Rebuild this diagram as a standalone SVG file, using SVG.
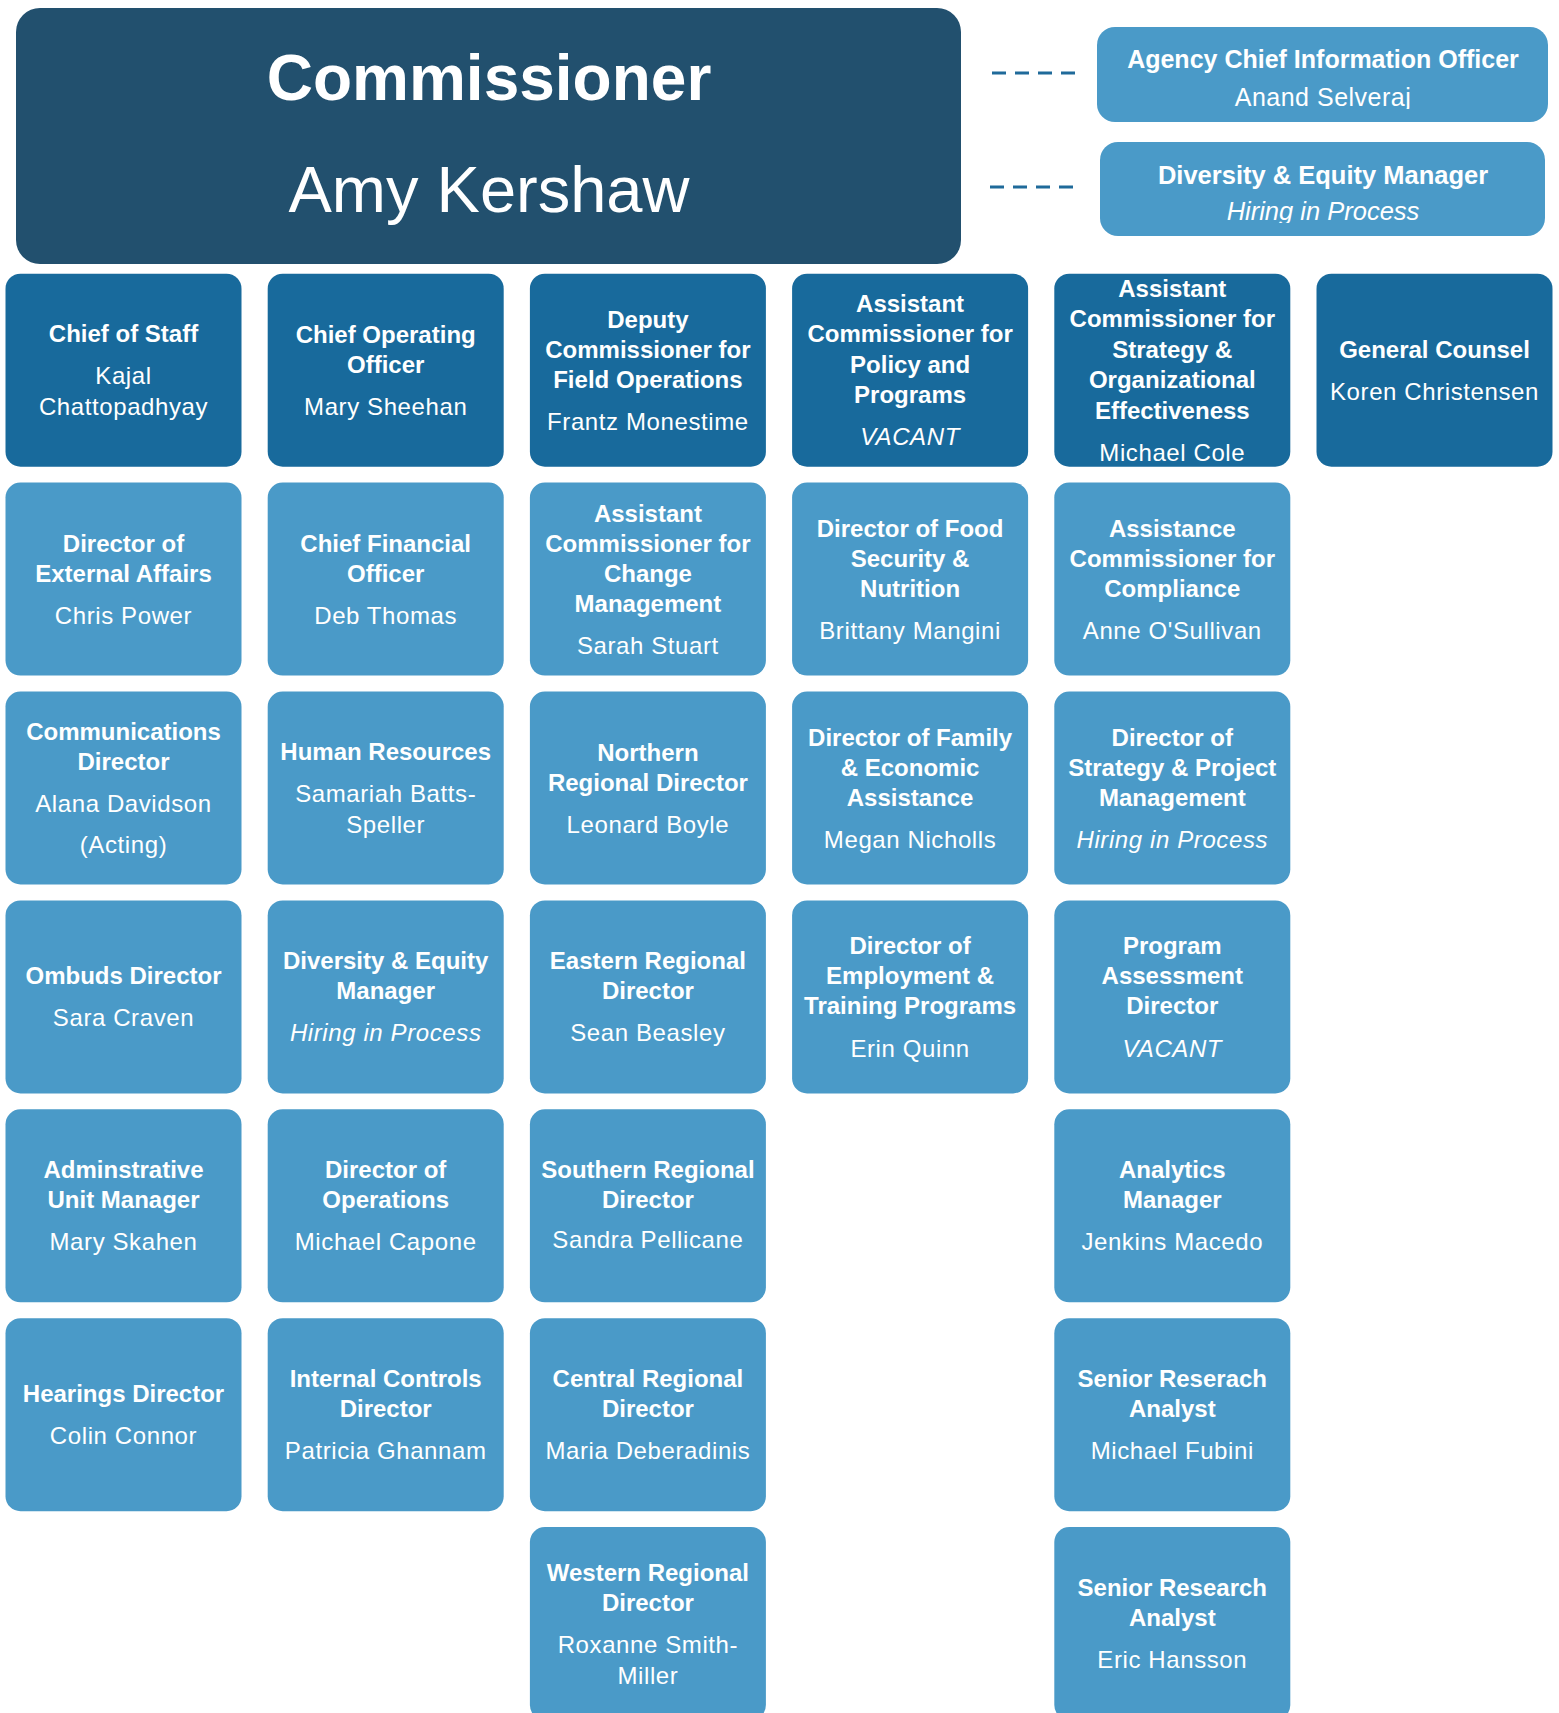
<svg xmlns="http://www.w3.org/2000/svg" width="1559" height="1713" viewBox="0 0 1559 1713">
<style>
text { font-family: "Liberation Sans", Arial, sans-serif; fill: #ffffff; text-anchor: middle; }
.t { font-weight: bold; font-size: 24px; }
.n { font-size: 24px; letter-spacing: 0.6px; }
.i { font-style: italic; }
.dk { fill: #186A9C; }
.lt { fill: #4A9AC8; }
.cm { fill: #22506E; }
.dash { stroke: #1F6A9A; stroke-width: 3; stroke-dasharray: 14 9; fill: none; }
</style>
<defs>
<clipPath id="clipCio"><rect x="1097" y="27" width="451" height="82"/></clipPath>
<clipPath id="clipDem"><rect x="1100" y="142" width="445" height="81"/></clipPath>
</defs>

<g id="connectors">
<line class="dash" x1="992" y1="73" x2="1076" y2="73"/>
<line class="dash" x1="990" y1="187" x2="1074" y2="187"/>
</g>

<g id="commissioner">
<rect class="cm" x="16" y="8" width="945" height="256" rx="24"/>
<text x="489" y="100" style="font-weight:bold;font-size:64px">Commissioner</text>
<text x="489" y="212" style="font-size:65px">Amy Kershaw</text>
</g>

<g id="agency-cio">
<rect class="lt" x="1097" y="27" width="451" height="95" rx="18"/>
<text x="1323" y="68" style="font-weight:bold;font-size:25px">Agency Chief Information Officer</text>
<text x="1323" y="106" clip-path="url(#clipCio)" style="font-size:25px;letter-spacing:0.5px">Anand Selveraj</text>
</g>

<g id="diversity-equity-top">
<rect class="lt" x="1100" y="142" width="445" height="94" rx="18"/>
<text x="1323" y="184" style="font-weight:bold;font-size:25.5px">Diversity &amp; Equity Manager</text>
<text x="1323" y="220" class="i" clip-path="url(#clipDem)" style="font-size:25.5px">Hiring in Process</text>
</g>

<!-- Row 1 -->
<g id="chief-of-staff">
<rect class="dk" x="5.5" y="273.7" width="236" height="193" rx="15"/>
<text class="t" x="123.5" y="342.2">Chief of Staff</text>
<text class="n" x="123.5" y="384.2">Kajal</text>
<text class="n" x="123.5" y="415.2">Chattopadhyay</text>
</g>
<g id="coo">
<rect class="dk" x="267.7" y="273.7" width="236" height="193" rx="15"/>
<text class="t" x="385.7" y="342.7">Chief Operating</text>
<text class="t" x="385.7" y="372.7">Officer</text>
<text class="n" x="385.7" y="414.7">Mary Sheehan</text>
</g>
<g id="deputy-field-ops">
<rect class="dk" x="529.9" y="273.7" width="236" height="193" rx="15"/>
<text class="t" x="647.9" y="327.7">Deputy</text>
<text class="t" x="647.9" y="357.7">Commissioner for</text>
<text class="t" x="647.9" y="387.7">Field Operations</text>
<text class="n" x="647.9" y="429.7">Frantz Monestime</text>
</g>
<g id="ac-policy">
<rect class="dk" x="792.1" y="273.7" width="236" height="193" rx="15"/>
<text class="t" x="910.1" y="311.7">Assistant</text>
<text class="t" x="910.1" y="341.7">Commissioner for</text>
<text class="t" x="910.1" y="372.7">Policy and</text>
<text class="t" x="910.1" y="402.7">Programs</text>
<text class="n i" x="910.1" y="444.7">VACANT</text>
</g>
<g id="ac-strategy">
<rect class="dk" x="1054.3" y="273.7" width="236" height="193" rx="15"/>
<text class="t" x="1172.3" y="296.7">Assistant</text>
<text class="t" x="1172.3" y="326.7">Commissioner for</text>
<text class="t" x="1172.3" y="357.7">Strategy &amp;</text>
<text class="t" x="1172.3" y="387.7">Organizational</text>
<text class="t" x="1172.3" y="418.7">Effectiveness</text>
<text class="n" x="1172.3" y="460.7">Michael Cole</text>
</g>
<g id="general-counsel">
<rect class="dk" x="1316.5" y="273.7" width="236" height="193" rx="15"/>
<text class="t" x="1434.5" y="357.7">General Counsel</text>
<text class="n" x="1434.5" y="399.7">Koren Christensen</text>
</g>

<!-- Row 2 -->
<g id="external-affairs">
<rect class="lt" x="5.5" y="482.6" width="236" height="193" rx="15"/>
<text class="t" x="123.5" y="551.6">Director of</text>
<text class="t" x="123.5" y="581.6">External Affairs</text>
<text class="n" x="123.5" y="623.6">Chris Power</text>
</g>
<g id="cfo">
<rect class="lt" x="267.7" y="482.6" width="236" height="193" rx="15"/>
<text class="t" x="385.7" y="551.6">Chief Financial</text>
<text class="t" x="385.7" y="581.6">Officer</text>
<text class="n" x="385.7" y="623.6">Deb Thomas</text>
</g>
<g id="ac-change">
<rect class="lt" x="529.9" y="482.6" width="236" height="193" rx="15"/>
<text class="t" x="647.9" y="521.6">Assistant</text>
<text class="t" x="647.9" y="551.6">Commissioner for</text>
<text class="t" x="647.9" y="581.6">Change</text>
<text class="t" x="647.9" y="611.6">Management</text>
<text class="n" x="647.9" y="653.6">Sarah Stuart</text>
</g>
<g id="food-security">
<rect class="lt" x="792.1" y="482.6" width="236" height="193" rx="15"/>
<text class="t" x="910.1" y="536.6">Director of Food</text>
<text class="t" x="910.1" y="566.6">Security &amp;</text>
<text class="t" x="910.1" y="596.6">Nutrition</text>
<text class="n" x="910.1" y="638.6">Brittany Mangini</text>
</g>
<g id="ac-compliance">
<rect class="lt" x="1054.3" y="482.6" width="236" height="193" rx="15"/>
<text class="t" x="1172.3" y="536.6">Assistance</text>
<text class="t" x="1172.3" y="566.6">Commissioner for</text>
<text class="t" x="1172.3" y="596.6">Compliance</text>
<text class="n" x="1172.3" y="638.6">Anne O'Sullivan</text>
</g>

<!-- Row 3 -->
<g id="communications">
<rect class="lt" x="5.5" y="691.5" width="236" height="193" rx="15"/>
<text class="t" x="123.5" y="739.8">Communications</text>
<text class="t" x="123.5" y="769.8">Director</text>
<text class="n" x="123.5" y="811.8">Alana Davidson</text>
<text class="n" x="123.5" y="853.3">(Acting)</text>
</g>
<g id="human-resources">
<rect class="lt" x="267.7" y="691.5" width="236" height="193" rx="15"/>
<text class="t" x="385.7" y="760">Human Resources</text>
<text class="n" x="385.7" y="802">Samariah Batts-</text>
<text class="n" x="385.7" y="833">Speller</text>
</g>
<g id="northern-regional">
<rect class="lt" x="529.9" y="691.5" width="236" height="193" rx="15"/>
<text class="t" x="647.9" y="760.5">Northern</text>
<text class="t" x="647.9" y="790.5">Regional Director</text>
<text class="n" x="647.9" y="832.5">Leonard Boyle</text>
</g>
<g id="family-economic">
<rect class="lt" x="792.1" y="691.5" width="236" height="193" rx="15"/>
<text class="t" x="910.1" y="745.5">Director of Family</text>
<text class="t" x="910.1" y="775.5">&amp; Economic</text>
<text class="t" x="910.1" y="805.5">Assistance</text>
<text class="n" x="910.1" y="847.5">Megan Nicholls</text>
</g>
<g id="strategy-project">
<rect class="lt" x="1054.3" y="691.5" width="236" height="193" rx="15"/>
<text class="t" x="1172.3" y="745.5">Director of</text>
<text class="t" x="1172.3" y="775.5">Strategy &amp; Project</text>
<text class="t" x="1172.3" y="805.5">Management</text>
<text class="n i" x="1172.3" y="847.5">Hiring in Process</text>
</g>

<!-- Row 4 -->
<g id="ombuds">
<rect class="lt" x="5.5" y="900.4" width="236" height="193" rx="15"/>
<text class="t" x="123.5" y="984.4">Ombuds Director</text>
<text class="n" x="123.5" y="1026.4">Sara Craven</text>
</g>
<g id="diversity-equity">
<rect class="lt" x="267.7" y="900.4" width="236" height="193" rx="15"/>
<text class="t" x="385.7" y="969.4">Diversity &amp; Equity</text>
<text class="t" x="385.7" y="999.4">Manager</text>
<text class="n i" x="385.7" y="1041.4">Hiring in Process</text>
</g>
<g id="eastern-regional">
<rect class="lt" x="529.9" y="900.4" width="236" height="193" rx="15"/>
<text class="t" x="647.9" y="969.4">Eastern Regional</text>
<text class="t" x="647.9" y="999.4">Director</text>
<text class="n" x="647.9" y="1041.4">Sean Beasley</text>
</g>
<g id="employment-training">
<rect class="lt" x="792.1" y="900.4" width="236" height="193" rx="15"/>
<text class="t" x="910.1" y="954.4">Director of</text>
<text class="t" x="910.1" y="984.4">Employment &amp;</text>
<text class="t" x="910.1" y="1014.4">Training Programs</text>
<text class="n" x="910.1" y="1057.4">Erin Quinn</text>
</g>
<g id="program-assessment">
<rect class="lt" x="1054.3" y="900.4" width="236" height="193" rx="15"/>
<text class="t" x="1172.3" y="954.4">Program</text>
<text class="t" x="1172.3" y="984.4">Assessment</text>
<text class="t" x="1172.3" y="1014.4">Director</text>
<text class="n i" x="1172.3" y="1057.4">VACANT</text>
</g>

<!-- Row 5 -->
<g id="admin-unit">
<rect class="lt" x="5.5" y="1109.3" width="236" height="193" rx="15"/>
<text class="t" x="123.5" y="1178.3">Adminstrative</text>
<text class="t" x="123.5" y="1208.3">Unit Manager</text>
<text class="n" x="123.5" y="1250.3">Mary Skahen</text>
</g>
<g id="operations">
<rect class="lt" x="267.7" y="1109.3" width="236" height="193" rx="15"/>
<text class="t" x="385.7" y="1178.3">Director of</text>
<text class="t" x="385.7" y="1208.3">Operations</text>
<text class="n" x="385.7" y="1250.3">Michael Capone</text>
</g>
<g id="southern-regional">
<rect class="lt" x="529.9" y="1109.3" width="236" height="193" rx="15"/>
<text class="t" x="647.9" y="1178.3">Southern Regional</text>
<text class="t" x="647.9" y="1208.3">Director</text>
<text class="n" x="647.9" y="1248.3">Sandra Pellicane</text>
</g>
<g id="analytics">
<rect class="lt" x="1054.3" y="1109.3" width="236" height="193" rx="15"/>
<text class="t" x="1172.3" y="1178.3">Analytics</text>
<text class="t" x="1172.3" y="1208.3">Manager</text>
<text class="n" x="1172.3" y="1250.3">Jenkins Macedo</text>
</g>

<!-- Row 6 -->
<g id="hearings">
<rect class="lt" x="5.5" y="1318.2" width="236" height="193" rx="15"/>
<text class="t" x="123.5" y="1402.2">Hearings Director</text>
<text class="n" x="123.5" y="1444.2">Colin Connor</text>
</g>
<g id="internal-controls">
<rect class="lt" x="267.7" y="1318.2" width="236" height="193" rx="15"/>
<text class="t" x="385.7" y="1387.2">Internal Controls</text>
<text class="t" x="385.7" y="1417.2">Director</text>
<text class="n" x="385.7" y="1459.2">Patricia Ghannam</text>
</g>
<g id="central-regional">
<rect class="lt" x="529.9" y="1318.2" width="236" height="193" rx="15"/>
<text class="t" x="647.9" y="1387.2">Central Regional</text>
<text class="t" x="647.9" y="1417.2">Director</text>
<text class="n" x="647.9" y="1459.2">Maria Deberadinis</text>
</g>
<g id="senior-research-1">
<rect class="lt" x="1054.3" y="1318.2" width="236" height="193" rx="15"/>
<text class="t" x="1172.3" y="1387.2">Senior Reserach</text>
<text class="t" x="1172.3" y="1417.2">Analyst</text>
<text class="n" x="1172.3" y="1459.2">Michael Fubini</text>
</g>

<!-- Row 7 -->
<g id="western-regional">
<rect class="lt" x="529.9" y="1527.1" width="236" height="193" rx="15"/>
<text class="t" x="647.9" y="1580.6">Western Regional</text>
<text class="t" x="647.9" y="1610.6">Director</text>
<text class="n" x="647.9" y="1652.6">Roxanne Smith-</text>
<text class="n" x="647.9" y="1683.6">Miller</text>
</g>
<g id="senior-research-2">
<rect class="lt" x="1054.3" y="1527.1" width="236" height="193" rx="15"/>
<text class="t" x="1172.3" y="1596.1">Senior Research</text>
<text class="t" x="1172.3" y="1626.1">Analyst</text>
<text class="n" x="1172.3" y="1668.1">Eric Hansson</text>
</g>
</svg>
